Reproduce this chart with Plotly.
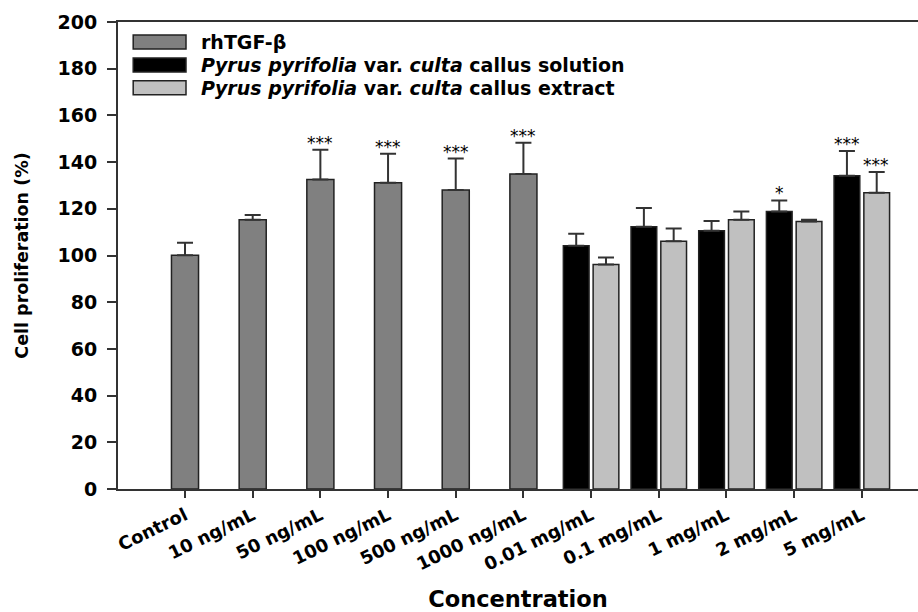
import plotly.graph_objects as go

categories = ["Control", "10 ng/mL", "50 ng/mL", "100 ng/mL", "500 ng/mL", "1000 ng/mL",
              "0.01 mg/mL", "0.1 mg/mL", "1 mg/mL", "2 mg/mL", "5 mg/mL"]

tgf_cats = ["Control", "10 ng/mL", "50 ng/mL", "100 ng/mL", "500 ng/mL", "1000 ng/mL"]
tgf_vals = [100.1, 115.3, 132.5, 131.2, 128.0, 134.9]
tgf_err = [5.4, 2.0, 12.8, 12.4, 13.5, 13.4]
tgf_sig = ["", "", "***", "***", "***", "***"]

pp_cats = ["0.01 mg/mL", "0.1 mg/mL", "1 mg/mL", "2 mg/mL", "5 mg/mL"]
sol_vals = [104.2, 112.3, 110.6, 118.8, 134.2]
sol_err = [5.1, 8.0, 4.2, 4.8, 10.6]
sol_sig = ["", "", "", "*", "***"]
ext_vals = [96.1, 106.1, 115.3, 114.6, 126.9]
ext_err = [3.0, 5.5, 3.5, 0.7, 8.9]
ext_sig = ["", "", "", "", "***"]

series_names = ["rhTGF-β",
                "<i>Pyrus pyrifolia</i> var. <i>culta</i> callus solution",
                "<i>Pyrus pyrifolia</i> var. <i>culta</i> callus extract"]
colors = ["#808080", "#000000", "#c0c0c0"]

y_ticks = [0, 20, 40, 60, 80, 100, 120, 140, 160, 180, 200]

FONT = "DejaVu Sans, Arial, sans-serif"
EDGE = "#222222"

def err(arr):
    return dict(type="data", symmetric=False, array=arr, arrayminus=[0] * len(arr),
                color="#333333", thickness=2, width=8)

fig = go.Figure()
fig.add_trace(go.Bar(x=tgf_cats, y=tgf_vals, name=series_names[0], width=0.40, offset=-0.20,
                     marker=dict(color=colors[0], line=dict(color=EDGE, width=1.5)),
                     error_y=err(tgf_err), showlegend=False))
fig.add_trace(go.Bar(x=pp_cats, y=sol_vals, name=series_names[1], width=0.38, offset=-0.41,
                     marker=dict(color=colors[1], line=dict(color=EDGE, width=1.5)),
                     error_y=err(sol_err), showlegend=False))
fig.add_trace(go.Bar(x=pp_cats, y=ext_vals, name=series_names[2], width=0.38, offset=0.03,
                     marker=dict(color=colors[2], line=dict(color=EDGE, width=1.5)),
                     error_y=err(ext_err), showlegend=False))

annotations = []
def add_sig(cats, vals, errs, sigs, xshift):
    for c, v, e, s in zip(cats, vals, errs, sigs):
        if s:
            annotations.append(dict(x=c, y=v + e, text=s, showarrow=False, xanchor="center",
                                    yanchor="bottom", xshift=xshift, yshift=-5,
                                    font=dict(family=FONT, size=17, color="#000")))
add_sig(tgf_cats, tgf_vals, tgf_err, tgf_sig, 0)
add_sig(pp_cats, sol_vals, sol_err, sol_sig, -15)
add_sig(pp_cats, ext_vals, ext_err, ext_sig, 14)

# legend drawn as shapes + text
shapes = []
leg_y = [0.957, 0.908, 0.859]
for name, col, yy in zip(series_names, colors, leg_y):
    shapes.append(dict(type="rect", xref="paper", yref="paper", x0=0.019, x1=0.085,
                       y0=yy - 0.015, y1=yy + 0.015, fillcolor=col,
                       line=dict(color=EDGE, width=1.5)))
    annotations.append(dict(xref="paper", yref="paper", x=0.101, y=yy, text=name,
                            showarrow=False, xanchor="left", yanchor="middle",
                            font=dict(family=FONT, size=19, color="#000", weight="bold")))

fig.update_layout(
    width=918, height=612,
    margin=dict(l=118, r=0, t=22, b=123),
    paper_bgcolor="white", plot_bgcolor="white",
    barmode="overlay",
    showlegend=False,
    shapes=shapes,
    annotations=annotations,
    font=dict(family=FONT, color="#000"),
)
fig.update_xaxes(type="category", categoryorder="array", categoryarray=categories,
                 range=[-0.99, 10.83], showline=True, linecolor="#333", linewidth=2,
                 mirror=True, ticks="outside", ticklen=7, tickcolor="#333", tickwidth=1.5,
                 tickangle=-26, showgrid=False, zeroline=False,
                 tickfont=dict(family=FONT, size=18, color="#000", weight="bold"),
                 title=dict(text="Concentration", standoff=20,
                            font=dict(family=FONT, size=22.5, color="#000", weight="bold")))
fig.update_yaxes(range=[0, 200], tickvals=y_ticks, showline=True, linecolor="#333", linewidth=2,
                 ticks="outside", ticklen=9, tickcolor="#333", tickwidth=1.5,
                 ticklabelstandoff=6,
                 showgrid=False, zeroline=False,
                 tickfont=dict(family=FONT, size=19, color="#000", weight="bold"),
                 title=dict(text="Cell proliferation (%)", standoff=24,
                            font=dict(family=FONT, size=17.5, color="#000", weight="bold")))

fig.write_html("out.html")
